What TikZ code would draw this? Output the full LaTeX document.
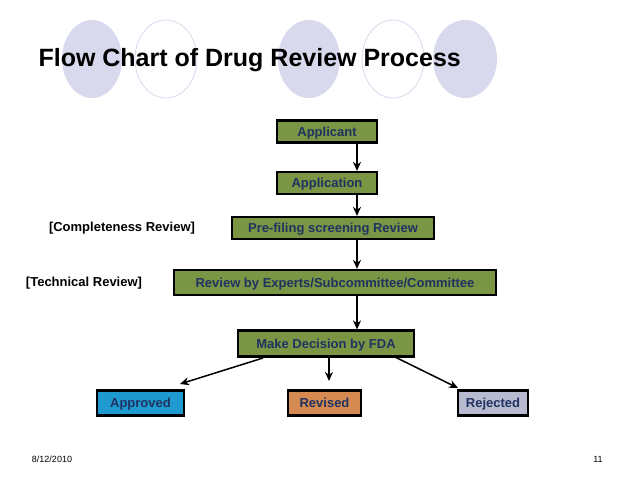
\documentclass[tikz,border=0pt]{standalone}
\usepackage{fontspec}
\setmainfont{Liberation Sans}
\usetikzlibrary{arrows.meta}
\begin{document}
\begin{tikzpicture}[x=1pt,y=-1pt,
  box/.style={draw=black,line width=2.2pt,font=\bfseries\fontsize{13}{15}\selectfont,text=navy,inner sep=0pt,minimum height=22pt,text height=9.5pt,text depth=0pt},
  arr/.style={-{Stealth[length=9pt,width=8pt]},line width=1.5pt},
  circf/.style={fill=lav,draw=none},
  circo/.style={draw=lav,line width=0.8pt}]
\definecolor{lav}{HTML}{D9D9EE}
\definecolor{navy}{HTML}{1F3360}
\definecolor{grn}{HTML}{7A9544}
\definecolor{blu}{HTML}{1E9AD0}
\definecolor{org}{HTML}{D48A50}
\definecolor{gry}{HTML}{B8BAD0}
\useasboundingbox (0,0) rectangle (638,479);
\fill[white] (0,0) rectangle (638,479);
\fill[circf] (92,59) ellipse (30 and 39);
\draw[circo] (166,59) ellipse (31 and 39);
\fill[circf] (309,59) ellipse (31 and 39);
\draw[circo] (393,59) ellipse (31 and 39);
\fill[circf] (465,59) ellipse (32 and 39);
\node[anchor=west,font=\bfseries\fontsize{25}{28}\selectfont] (title) at (35,60) {Flow Chart of Drug Review Process};
\node[box,fill=grn,minimum width=100pt] (a) at (327,131.5) {Applicant};
\node[box,fill=grn,minimum width=100pt] (b) at (327,183) {Application};
\node[box,fill=grn,minimum width=202pt] (c) at (333,228) {Pre-filing screening Review};
\node[box,fill=grn,minimum width=322pt,minimum height=25pt] (d) at (335,282.5) {Review by Experts/Subcommittee/Committee};
\node[box,fill=grn,minimum width=176pt,minimum height=26pt] (e) at (326,343.5) {Make Decision by FDA};
\node[box,fill=blu,minimum width=87pt,minimum height=25pt] (f1) at (140.5,403) {Approved};
\node[box,fill=org,minimum width=73pt,minimum height=25pt] (f2) at (324.5,403) {Revised};
\node[box,fill=gry,minimum width=70pt,minimum height=25pt] (f3) at (493,403) {Rejected};
\node[font=\bfseries\fontsize{13}{15}\selectfont] (l1) at (122,228) {[Completeness Review]};
\node[font=\bfseries\fontsize{13}{15}\selectfont] (l2) at (84,283) {[Technical Review]};
\node[font=\fontsize{9}{10}\selectfont] (dt) at (52,459) {8/12/2010};
\node[font=\fontsize{9}{10}\selectfont] (pg) at (598,459) {11};
\draw[arr] (a.south -| 357,0) -- (b.north -| 357,0);
\draw[arr] (b.south -| 357,0) -- (c.north -| 357,0);
\draw[arr] (c.south -| 357,0) -- (d.north -| 357,0);
\draw[arr] (d.south -| 357,0) -- (e.north -| 357,0);
\draw[arr] (e.south -| 329,0) -- (329,381);
\draw[arr] (263,358) -- (180,384);
\draw[arr] (395,357) -- (458,388);
\end{tikzpicture}
\end{document}
